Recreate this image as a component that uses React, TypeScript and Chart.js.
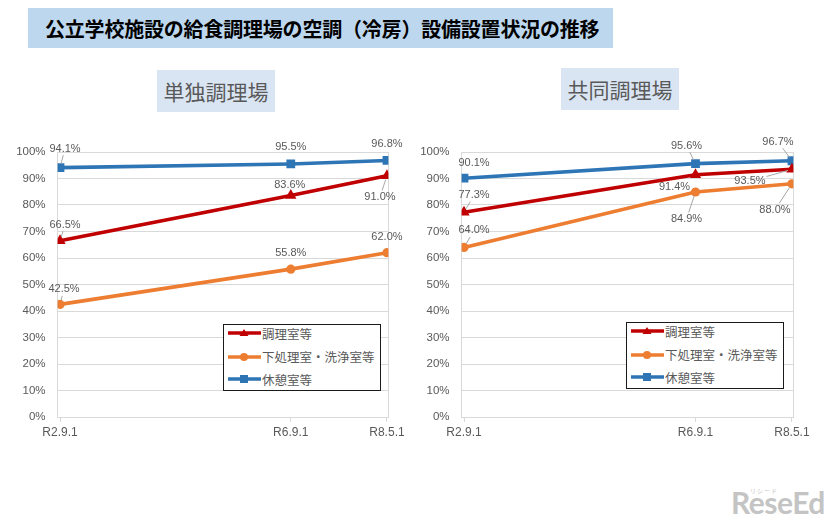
import React, { useEffect, useRef } from "react";
import { Chart, registerables } from "chart.js";

Chart.register(...registerables);

// Survey dates and their position in months after R2.9 (2020-09)
const SURVEY_LABELS = ["R2.9.1", "R6.9.1", "R8.5.1"];
const SURVEY_MONTHS = [0, 48, 68];

const SERIES_NAMES = ["調理室等", "下処理室・洗浄室等", "休憩室等"];
const SERIES_COLORS = ["#c00000", "#ed7d31", "#2e75b6"];
const SERIES_MARKERS = ["triangle", "circle", "rect"];
const SERIES_RADII = [6.5, 4.6, 6.2];

// 単独調理場 (%)
const SINGLE_KITCHEN = [66.5, 83.6, 91.0];
const SINGLE_PREP = [42.5, 55.8, 62.0];
const SINGLE_REST = [94.1, 95.5, 96.8];

// 共同調理場 (%)
const SHARED_KITCHEN = [77.3, 91.4, 93.5];
const SHARED_PREP = [64.0, 84.9, 88.0];
const SHARED_REST = [90.1, 95.6, 96.7];

const Y_TICKS = [0, 10, 20, 30, 40, 50, 60, 70, 80, 90, 100];

// Label placement per point: [dx, dy, leader line]
type Placement = [number, number, boolean];
const SINGLE_PLACEMENTS: Placement[][] = [
  [[5, -16, true], [-1, -10, false], [-7, 21, true]],
  [[4, -15, true], [0, -16, false], [0, -16, false]],
  [[5, -19, true], [0, -17, false], [0, -17, false]],
];
const SHARED_PLACEMENTS: Placement[][] = [
  [[10, -17, true], [-21, 12, false], [-42, 12, true]],
  [[10, -17, true], [-9, 27, true], [-17, 26, true]],
  [[10, -15, false], [-9, -18, true], [-14, -19, true]],
];

const NUM_FONT = '"Liberation Sans", "Noto Sans", sans-serif';
const JP_FONT = '"Noto Sans CJK JP", "Noto Sans", sans-serif';
const TEXT_GRAY = "#595959";
const GRID_GRAY = "#d9d9d9";

const pointLabelPlugin = {
  id: "pointLabels",
  afterDatasetsDraw(chart: any, _args: any, opts: any) {
    const ctx = chart.ctx as CanvasRenderingContext2D;
    const placements: Placement[][] = opts.placements || [];
    ctx.save();
    ctx.font = `11px ${NUM_FONT}`;
    ctx.textAlign = "center";
    ctx.textBaseline = "middle";
    chart.data.datasets.forEach((ds: any, di: number) => {
      const meta = chart.getDatasetMeta(di);
      meta.data.forEach((pt: any, i: number) => {
        const place = placements[di] && placements[di][i];
        if (!place) return;
        const [dx, dy, leader] = place;
        const text = ds.data[i].y.toFixed(1) + "%";
        const w = ctx.measureText(text).width;
        const h = 11;
        const cx = pt.x + dx;
        const cy = pt.y + dy;
        if (leader) {
          const vx = pt.x - cx;
          const vy = pt.y - cy;
          const tx = vx !== 0 ? (w / 2 + 1) / Math.abs(vx) : Infinity;
          const ty = vy !== 0 ? (h / 2 + 1) / Math.abs(vy) : Infinity;
          const t0 = Math.min(tx, ty, 1);
          const sx = cx + vx * t0;
          const sy = cy + vy * t0;
          const len = Math.hypot(pt.x - sx, pt.y - sy);
          if (len > 5) {
            const ex = pt.x - ((pt.x - sx) / len) * 4;
            const ey = pt.y - ((pt.y - sy) / len) * 4;
            ctx.strokeStyle = "#a6a6a6";
            ctx.lineWidth = 1;
            ctx.beginPath();
            ctx.moveTo(sx, sy);
            ctx.lineTo(ex, ey);
            ctx.stroke();
          }
        }
        ctx.fillStyle = TEXT_GRAY;
        ctx.fillText(text, cx, cy);
      });
    });
    ctx.restore();
  },
};

const rightEdgePlugin = {
  id: "rightEdge",
  beforeDatasetsDraw(chart: any) {
    const { ctx, chartArea } = chart;
    ctx.save();
    ctx.strokeStyle = GRID_GRAY;
    ctx.lineWidth = 1;
    ctx.beginPath();
    const x = Math.round(chartArea.right) + 0.5;
    ctx.moveTo(x, chartArea.top);
    ctx.lineTo(x, chartArea.bottom);
    ctx.stroke();
    ctx.restore();
  },
};

type PanelProps = {
  left: number;
  top: number;
  width: number;
  height: number;
  axisWidth: number;
  padRight: number;
  series: number[][];
  placements: Placement[][];
};

function LinePanel({ left, top, width, height, axisWidth, padRight, series, placements }: PanelProps) {
  const ref = useRef<HTMLCanvasElement | null>(null);

  useEffect(() => {
    if (!ref.current) return;
    const chart = new Chart(ref.current, {
      type: "line",
      data: {
        datasets: series.map((values, si) => ({
          label: SERIES_NAMES[si],
          data: values.map((v, i) => ({ x: SURVEY_MONTHS[i], y: v })),
          borderColor: SERIES_COLORS[si],
          backgroundColor: SERIES_COLORS[si],
          borderWidth: 3.6,
          pointStyle: SERIES_MARKERS[si] as any,
          pointRadius: SERIES_RADII[si],
          pointBorderWidth: 0,
          tension: 0,
        })),
      },
      options: {
        responsive: false,
        animation: false,
        layout: { padding: { top: 22, right: padRight, left: 0, bottom: 0 } },
        plugins: {
          legend: { display: false },
          tooltip: { enabled: false },
          pointLabels: { placements },
        } as any,
        scales: {
          x: {
            type: "linear",
            min: -0.5,
            max: 68.3,
            afterBuildTicks: (scale: any) => {
              scale.ticks = SURVEY_MONTHS.map((m) => ({ value: m }));
            },
            afterFit: (scale: any) => {
              scale.height = 33;
            },
            ticks: {
              autoSkip: false,
              maxRotation: 0,
              padding: 3,
              color: TEXT_GRAY,
              font: { size: 12, family: NUM_FONT },
              callback: (value: any) => {
                const idx = SURVEY_MONTHS.indexOf(Number(value));
                return idx >= 0 ? SURVEY_LABELS[idx] : "";
              },
            },
            grid: { drawOnChartArea: false, drawTicks: true, tickLength: 5, color: GRID_GRAY },
            border: { color: GRID_GRAY },
          },
          y: {
            min: 0,
            max: 100,
            afterBuildTicks: (scale: any) => {
              scale.ticks = Y_TICKS.map((v) => ({ value: v }));
            },
            afterFit: (scale: any) => {
              scale.width = axisWidth;
            },
            ticks: {
              padding: 12,
              color: TEXT_GRAY,
              font: { size: 11.5, family: NUM_FONT },
              callback: (value: any) => `${value}%`,
            },
            grid: { color: GRID_GRAY, drawTicks: false },
            border: { color: GRID_GRAY },
          },
        },
      },
      plugins: [pointLabelPlugin, rightEdgePlugin],
    });
    return () => chart.destroy();
  }, []);

  return (
    <canvas
      ref={ref}
      width={width}
      height={height}
      style={{ position: "absolute", left, top, width, height }}
    />
  );
}

function Swatch({ index }: { index: number }) {
  const c = SERIES_COLORS[index];
  let marker: React.ReactNode;
  if (index === 0) marker = <polygon points="16,1 20.5,8 11.5,8" fill={c} />;
  else if (index === 1) marker = <circle cx="16" cy="5" r="4" fill={c} />;
  else marker = <rect x="12" y="1" width="8" height="8" fill={c} />;
  return (
    <svg width="33" height="10" style={{ display: "block" }}>
      <line x1="0" y1="5" x2="33" y2="5" stroke={c} strokeWidth="3.5" />
      {marker}
    </svg>
  );
}

// Row centres measured from the legend box's top edge
const LEGEND_ROW_CENTERS = [9, 32.5, 55];

function Legend({ left, top }: { left: number; top: number }) {
  return (
    <div
      style={{
        position: "absolute",
        left,
        top,
        width: 156,
        height: 65,
        border: "1px solid #1a1a1a",
        background: "#ffffff",
      }}
    >
      {SERIES_NAMES.map((name, i) => (
        <div
          key={name}
          style={{
            position: "absolute",
            left: 4,
            top: LEGEND_ROW_CENTERS[i] - 1 - 11,
            height: 22,
            display: "flex",
            alignItems: "center",
          }}
        >
          <Swatch index={i} />
          <span style={{ marginLeft: 1, font: `12.5px ${JP_FONT}`, color: TEXT_GRAY, whiteSpace: "nowrap" }}>
            {name}
          </span>
        </div>
      ))}
    </div>
  );
}

function Subtitle({ left, top, text }: { left: number; top: number; text: string }) {
  return (
    <div
      style={{
        position: "absolute",
        left,
        top,
        width: 118,
        height: 42,
        background: "#dae5f3",
        color: TEXT_GRAY,
        font: `21px ${JP_FONT}`,
        display: "flex",
        alignItems: "center",
        justifyContent: "center",
      }}
    >
      {text}
    </div>
  );
}

export default function App() {
  return (
    <div
      style={{
        position: "absolute",
        left: 0,
        top: 0,
        width: 826,
        height: 522,
        background: "#ffffff",
        overflow: "hidden",
      }}
    >
      <div
        style={{
          position: "absolute",
          left: 28,
          top: 8,
          width: 585,
          height: 40,
          background: "#bdd7ee",
          display: "flex",
          alignItems: "center",
          paddingLeft: 17,
          boxSizing: "border-box",
          font: `bold 20px ${JP_FONT}`,
          letterSpacing: -0.2,
          color: "#000000",
          whiteSpace: "nowrap",
        }}
      >
        公立学校施設の給食調理場の空調（冷房）設備設置状況の推移
      </div>

      <Subtitle left={157} top={70} text="単独調理場" />
      <Subtitle left={561} top={68} text="共同調理場" />

      <LinePanel
        left={0}
        top={130}
        width={410}
        height={320}
        axisWidth={57.6}
        padRight={21.6}
        series={[SINGLE_KITCHEN, SINGLE_PREP, SINGLE_REST]}
        placements={SINGLE_PLACEMENTS}
      />
      <LinePanel
        left={410}
        top={130}
        width={416}
        height={320}
        axisWidth={51.6}
        padRight={32.6}
        series={[SHARED_KITCHEN, SHARED_PREP, SHARED_REST]}
        placements={SHARED_PLACEMENTS}
      />

      <Legend left={223} top={324} />
      <Legend left={626} top={322} />

      <div
        style={{
          position: "absolute",
          left: 750,
          top: 486,
          font: `6px ${JP_FONT}`,
          color: "#c4c4c4",
          letterSpacing: 1,
        }}
      >
        リシード
      </div>
      <div
        style={{
          position: "absolute",
          left: 731,
          top: 484,
          font: `bold 30px Lato, "Open Sans", sans-serif`,
          color: "#c4c4c4",
          letterSpacing: -0.5,
        }}
      >
        ReseEd
      </div>
    </div>
  );
}
